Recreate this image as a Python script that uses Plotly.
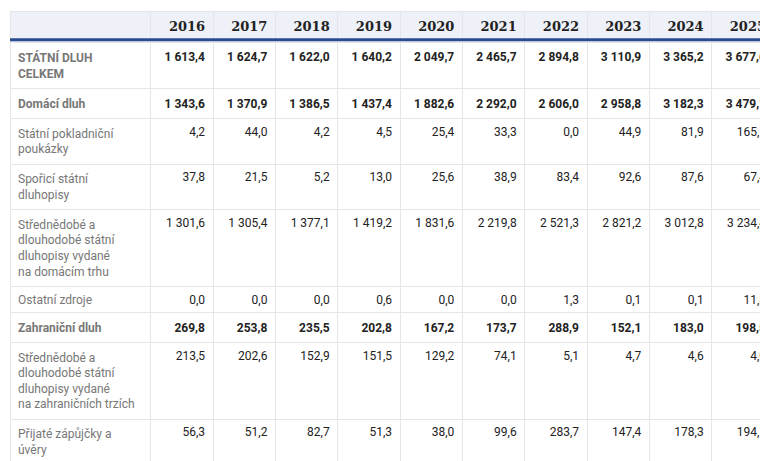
import plotly.graph_objects as go

years = ["2016","2017","2018","2019","2020","2021","2022","2023","2024","2025"]
labels = ["STÁTNÍ DLUH<br>CELKEM", "Domácí dluh", "Státní pokladniční<br>poukázky",
          "Spořicí státní<br>dluhopisy",
          "Střednědobé a<br>dlouhodobé státní<br>dluhopisy vydané<br>na domácím trhu",
          "Ostatní zdroje", "Zahraniční dluh",
          "Střednědobé a<br>dlouhodobé státní<br>dluhopisy vydané<br>na zahraničních trzích",
          "Přijaté zápůjčky a<br>úvěry", "Ostatní zdroje"]
bold_rows = [0, 1, 6]
values = [
    [1613.4,1624.7,1622.0,1640.2,2049.7,2465.7,2894.8,3110.9,3365.2,3677.6],
    [1343.6,1370.9,1386.5,1437.4,1882.6,2292.0,2606.0,2958.8,3182.3,3479.1],
    [4.2,44.0,4.2,4.5,25.4,33.3,0.0,44.9,81.9,165.5],
    [37.8,21.5,5.2,13.0,25.6,38.9,83.4,92.6,87.6,67.4],
    [1301.6,1305.4,1377.1,1419.2,1831.6,2219.8,2521.3,2821.2,3012.8,3234.4],
    [0.0,0.0,0.0,0.6,0.0,0.0,1.3,0.1,0.1,11.8],
    [269.8,253.8,235.5,202.8,167.2,173.7,288.9,152.1,183.0,198.5],
    [213.5,202.6,152.9,151.5,129.2,74.1,5.1,4.7,4.6,4.0],
    [56.3,51.2,82.7,51.3,38.0,99.6,283.7,147.4,178.3,194.5],
    [0.0,0.0,0.0,0.0,0.0,0.0,0.0,0.0,0.0,0.0],
]

def fmt(v):
    return f"{v:,.1f}".replace(",", " ").replace(".", ",")

lab_cells = [f"<b>{l}</b>" if i in bold_rows else l for i, l in enumerate(labels)]
cols = [lab_cells]
for j in range(len(years)):
    col = []
    for i in range(len(labels)):
        t = fmt(values[i][j])
        col.append(f"<b>{t}</b>" if i in bold_rows else t)
    cols.append(col)

fig = go.Figure(go.Table(
    columnwidth=[140] + [62]*10,
    header=dict(values=[""] + [f"<b>{y}</b>" for y in years],
                fill_color="#eef1f8", line_color="#e3e6ec",
                font=dict(family="DejaVu Serif", size=13, color="#222"),
                align=["left"] + ["right"]*10, height=29),
    cells=dict(values=cols, fill_color="white", line_color="#e6e6e6",
               font=dict(family="Roboto", size=12,
                         color=[["#777"]*10] + [["#222"]*10]*10),
               align=["left"] + ["right"]*10, height=26),
))
fig.add_shape(type="line", xref="paper", yref="paper", x0=0, x1=1, y0=0.937, y1=0.937,
              line=dict(color="#2a4a8f", width=3))
fig.update_layout(width=768, height=461, margin=dict(l=2, r=2, t=3, b=0),
                  paper_bgcolor="white")
fig.write_html("out.html")
